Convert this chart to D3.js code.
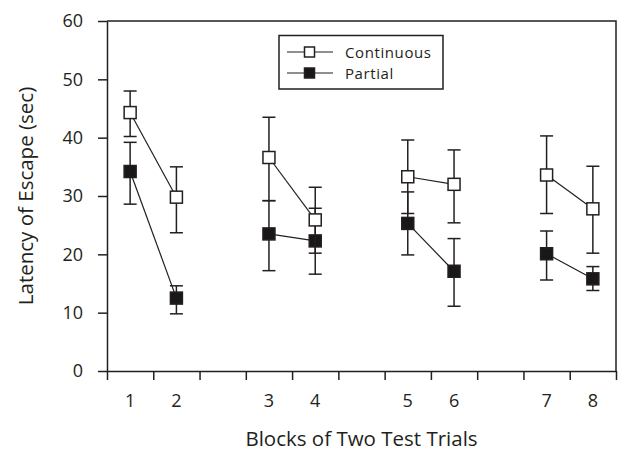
<!DOCTYPE html>
<html><head><meta charset="utf-8">
<script src="https://cdn.jsdelivr.net/npm/d3@7"></script>
<style>
html,body{margin:0;padding:0;background:#fff;}
svg{display:block;}
text{font-family:"Open Sans",sans-serif;fill:#231f20;}
</style></head>
<body>
<svg id="chart" width="618" height="451"></svg>
<script>
const blocks = ["1","2","3","4","5","6","7","8"];
const blockPos = [0.5, 1.5, 3.5, 4.5, 6.5, 7.5, 9.5, 10.5];
const pairs = [[0,1],[2,3],[4,5],[6,7]];
const continuousMean = [44.3, 29.8, 36.6, 25.9, 33.3, 32.0, 33.6, 27.8];
const continuousHi   = [48.0, 35.0, 43.5, 31.5, 39.6, 37.9, 40.3, 35.1];
const continuousLo   = [40.2, 23.7, 29.2, 20.2, 27.0, 25.4, 27.0, 20.2];
const partialMean    = [34.2, 12.5, 23.5, 22.3, 25.3, 17.1, 20.1, 15.8];
const partialHi      = [39.2, 14.6, 29.2, 27.9, 30.7, 22.7, 24.0, 17.9];
const partialLo      = [28.6,  9.8, 17.2, 16.6, 19.9, 11.1, 15.6, 13.8];
const yTicks = [0, 10, 20, 30, 40, 50, 60];
const xTicks = [0,1,2,3,4,5,6,7,8,9,10,11];
const seriesNames = ["Continuous", "Partial"];
const yTitle = "Latency of Escape (sec)";
const xTitle = "Blocks of Two Test Trials";

const ink = "#231f20";
const svg = d3.select("#chart");
const L = 107, R = 616, T = 21, B = 371;
const x = d3.scaleLinear().domain([0, 11]).range([L, R]);
const y = d3.scaleLinear().domain([0, 60]).range([B, T]);

// frame top/right
svg.append("path").attr("d", `M${L},${T}H${R}V${B}`).attr("fill","none").attr("stroke",ink).attr("stroke-width",1.5);

const yAxis = svg.append("g").attr("transform", `translate(${L},0)`)
  .call(d3.axisLeft(y).tickValues(yTicks).tickSize(9).tickPadding(15).tickSizeOuter(0));
const xAxis = svg.append("g").attr("transform", `translate(0,${B})`)
  .call(d3.axisBottom(x).tickValues(xTicks).tickSize(9).tickFormat("").tickSizeOuter(0));
[yAxis, xAxis].forEach(g => {
  g.select(".domain").attr("stroke", ink).attr("stroke-width", 1.5);
  g.selectAll(".tick line").attr("stroke", ink).attr("stroke-width", 1.5);
  g.selectAll("text").style("font-family", '"Open Sans",sans-serif').style("font-size","18px").attr("fill", ink);
});

// x labels at block positions
svg.append("g").selectAll("text").data(blocks).join("text")
  .attr("x", (d,i) => x(blockPos[i])).attr("y", 407).attr("text-anchor","middle")
  .style("font-size","18px").text(d => d);

// titles
svg.append("text").attr("x", (L+R)/2).attr("y", 446).attr("text-anchor","middle")
  .style("font-size","20.5px").text(xTitle);
svg.append("text").attr("transform", `translate(33,${(T+B)/2}) rotate(-90)`).attr("text-anchor","middle")
  .style("font-size","20.5px").text(yTitle);

function drawSeries(mean, hi, lo, fill) {
  const g = svg.append("g");
  mean.forEach((m,i) => {
    const cx = x(blockPos[i]);
    g.append("line").attr("x1",cx).attr("x2",cx).attr("y1",y(hi[i])).attr("y2",y(lo[i])).attr("stroke",ink).attr("stroke-width",1.5);
    [hi[i], lo[i]].forEach(v => g.append("line").attr("x1",cx-6.5).attr("x2",cx+6.5).attr("y1",y(v)).attr("y2",y(v)).attr("stroke",ink).attr("stroke-width",1.5));
  });
  pairs.forEach(([a,b]) => {
    g.append("line").attr("x1",x(blockPos[a])).attr("y1",y(mean[a])).attr("x2",x(blockPos[b])).attr("y2",y(mean[b])).attr("stroke",ink).attr("stroke-width",1.2);
  });
  g.selectAll("rect").data(mean).join("rect")
    .attr("x",(d,i)=>x(blockPos[i])-6).attr("y",d=>y(d)-6).attr("width",12).attr("height",12)
    .attr("fill",fill).attr("stroke",ink).attr("stroke-width",1.5);
}
drawSeries(partialMean, partialHi, partialLo, "#1a1718");
drawSeries(continuousMean, continuousHi, continuousLo, "#fff");

// legend
const lg = svg.append("g");
lg.append("rect").attr("x",279).attr("y",35.5).attr("width",164).attr("height",53.5).attr("fill","#fff").attr("stroke",ink).attr("stroke-width",1.5);
seriesNames.forEach((name,i) => {
  const yy = 52 + i*21;
  lg.append("line").attr("x1",287).attr("x2",333).attr("y1",yy).attr("y2",yy).attr("stroke",ink).attr("stroke-width",1.2);
  lg.append("rect").attr("x",304.5).attr("y",yy-5).attr("width",10).attr("height",10)
    .attr("fill", i===0 ? "#fff" : "#1a1718").attr("stroke",ink).attr("stroke-width",1.5);
  lg.append("text").attr("x",345).attr("y",yy+5.5).style("font-size","15px").style("letter-spacing","0.6px").text(name);
});
</script>
</body></html>
